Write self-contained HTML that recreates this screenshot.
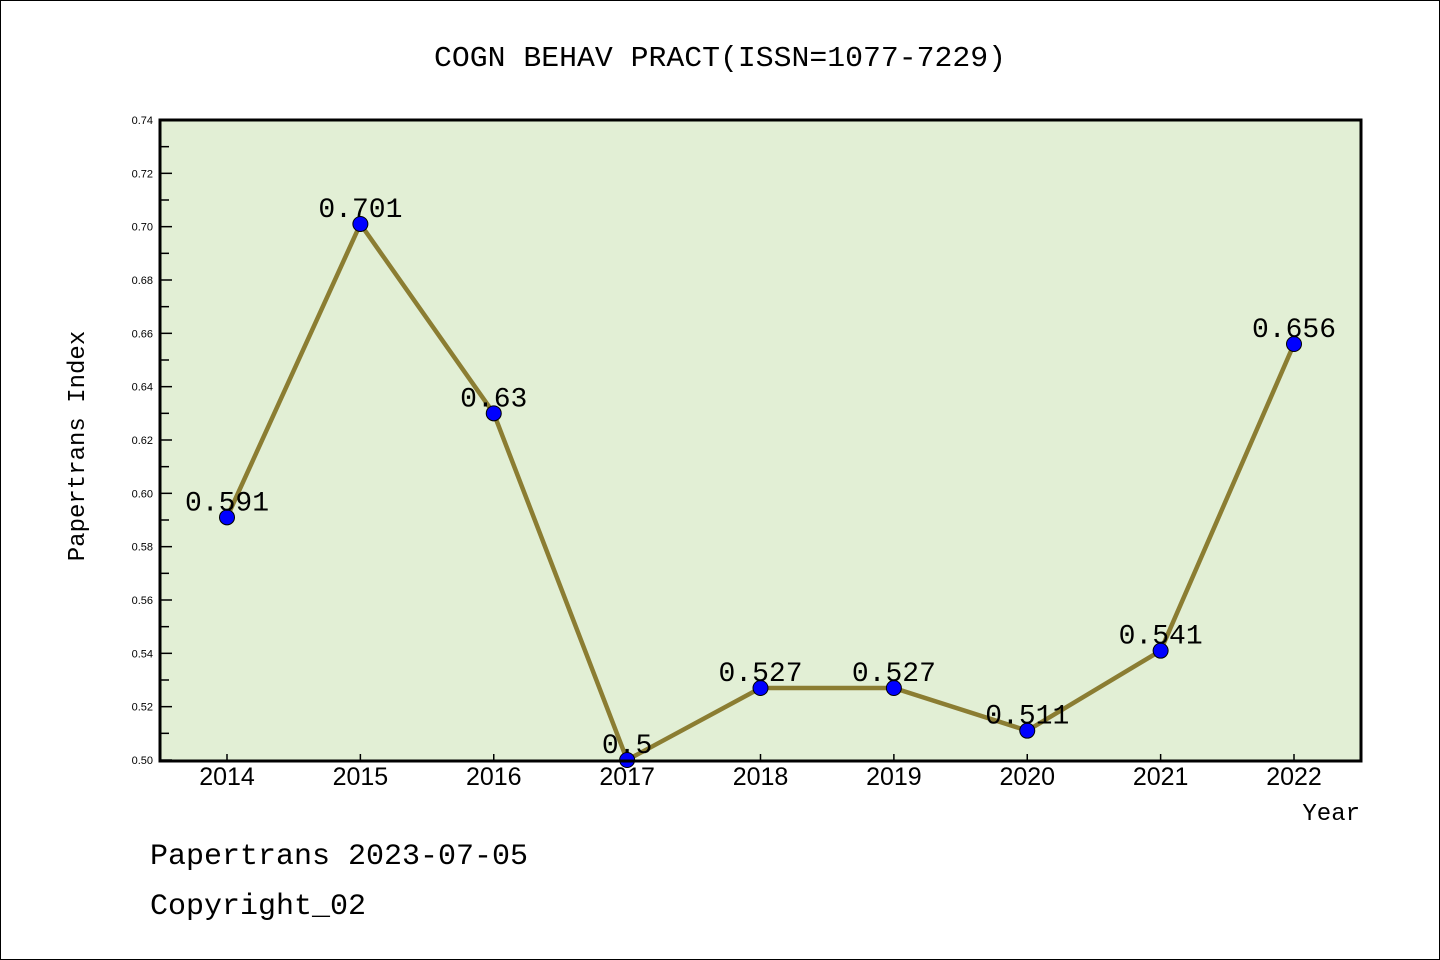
<!DOCTYPE html>
<html><head><meta charset="utf-8"><style>
body{margin:0;background:#fff;}
svg{display:block;font-family:"Liberation Mono","WenQuanYi Zen Hei",monospace;}
</style></head><body>
<svg width="1440" height="960">
<rect x="0.5" y="0.5" width="1439" height="959" fill="#fff" stroke="#000"/>
<text x="720" y="66" text-anchor="middle" font-size="29" textLength="572" lengthAdjust="spacingAndGlyphs">COGN BEHAV PRACT(ISSN=1077-7229)</text>
<rect x="160" y="120" width="1201" height="641" fill="#e2efd5"/>
<g id="axes"></g>
<g id="marks"></g>
<rect x="160" y="120" width="1201" height="641" fill="none" stroke="#000" stroke-width="3"/>
<text transform="translate(84,446) rotate(-90)" text-anchor="middle" font-size="24">Papertrans Index</text>
<text x="1360" y="820" text-anchor="end" font-size="24">Year</text>
<text x="150" y="864" font-size="30">Papertrans 2023-07-05</text>
<text x="150" y="914" font-size="30">Copyright_02</text>
</svg>
<script>
const years=[2014,2015,2016,2017,2018,2019,2020,2021,2022];
const values=[0.591,0.701,0.63,0.5,0.527,0.527,0.511,0.541,0.656];
const labels=["0.591","0.701","0.63","0.5","0.527","0.527","0.511","0.541","0.656"];
const yTicks=[0.50,0.52,0.54,0.56,0.58,0.60,0.62,0.64,0.66,0.68,0.70,0.72,0.74];
const NS="http://www.w3.org/2000/svg";
const y=v=>760-(v-0.5)/0.24*640;
const x=yr=>227+(yr-2014)*133.375;
function mk(t,a,p){const e=document.createElementNS(NS,t);for(const k in a)e.setAttribute(k,a[k]);p.appendChild(e);return e;}
const ax=document.getElementById('axes'),mg=document.getElementById('marks');
for(let i=0;i<yTicks.length;i++){
 const v=yTicks[i];
 const t=mk('line',{x1:160,x2:172,y1:y(v),y2:y(v),stroke:'#000','stroke-width':1.5},ax);
 
 
 const l=mk('text',{x:153,y:y(v)+4,'text-anchor':'end','font-size':11,'font-family':'Liberation Sans,sans-serif'},ax);
 l.textContent=v.toFixed(2);
 
 
 if(i<yTicks.length-1){
  const m=mk('line',{x1:160,x2:169,y1:y(v+0.01),y2:y(v+0.01),stroke:'#000','stroke-width':1.5},ax);
  
  
 }
}
years.forEach(yr=>{
 const t=mk('line',{x1:x(yr),x2:x(yr),y1:760,y2:754,stroke:'#000','stroke-width':1.5},ax);
 
 
 const l=mk('text',{x:x(yr),y:785,'text-anchor':'middle','font-size':25,'font-family':'Liberation Sans,sans-serif'},ax);
 l.textContent=yr;
 
 
});
const pl=mk('polyline',{points:years.map((yr,i)=>x(yr)+','+y(values[i])).join(' '),fill:'none',stroke:'#8b7d32','stroke-width':4.5},mg);


years.forEach((yr,i)=>{
 const c=mk('circle',{cx:x(yr),cy:y(values[i]),r:7.5,fill:'#0000ff',stroke:'#000','stroke-width':1},mg);
 
 
 const l=mk('text',{x:x(yr),y:y(values[i])-7,'text-anchor':'middle','font-size':28},mg);
 l.textContent=labels[i];
 
 
});
</script>
</body></html>
